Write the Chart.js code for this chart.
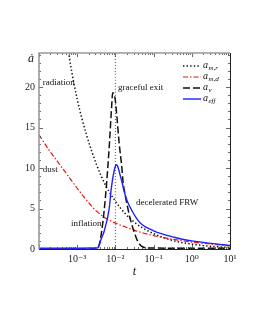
<!DOCTYPE html>
<html>
<head>
<meta charset="utf-8">
<script src="https://cdn.jsdelivr.net/npm/chart.js@4"></script>
<style>
  html, body { margin: 0; padding: 0; background: #fff; }
  #wrap { width: 255px; height: 330px; }
</style>
</head>
<body>
<div id="wrap"><canvas id="c"></canvas></div>
<script>
// log10(t) sample points and values of da/dt
const logtRad = [-3.3, -3.2, -3.0, -2.75, -2.5, -2.25, -2.0, -1.75, -1.5, -1.25, -1.0, -0.5, 0, 0.5, 1];
const aRad    = [27, 23.5, 18.5, 14, 10.5, 7.8, 5.9, 4.4, 3.3, 2.5, 1.9, 1.05, 0.6, 0.33, 0.19];

const logtDust = [-4, -3.75, -3.5, -3.25, -3.0, -2.75, -2.5, -2.25, -2.0, -1.75, -1.5, -1.25, -1.0, -0.5, 0, 0.5, 1];
const aDust    = [14.1, 12.3, 10.7, 9.1, 7.5, 6.0, 4.7, 3.8, 3.2, 2.75, 2.3, 1.95, 1.65, 1.2, 0.85, 0.6, 0.38];

const logtVac = [-4, -3, -2.5, -2.46, -2.40, -2.35, -2.30, -2.25, -2.20, -2.15, -2.10, -2.07, -2.03, -2.0, -1.96, -1.9, -1.83, -1.8, -1.75, -1.7, -1.6, -1.5, -1.43, -1.35, -1.28, -1.1, 0, 1];
const aVac    = [0, 0, 0, 0.1, 1.0, 2.5, 4.5, 7.0, 10.0, 13.5, 17.5, 19.3, 19.0, 18.3, 16.3, 13, 10, 8.3, 6.8, 5.6, 3.5, 2.0, 1.1, 0.5, 0.25, 0.12, 0.1, 0.1];

const logtEff = [-4, -3, -2.5, -2.46, -2.42, -2.38, -2.34, -2.30, -2.25, -2.19, -2.15, -2.12, -2.08, -2.04, -2.01, -1.98, -1.95, -1.92, -1.88, -1.83, -1.78, -1.72, -1.65, -1.55, -1.45, -1.35, -1.2, -1.0, -0.8, -0.5, -0.25, 0, 0.5, 1];
const aEff    = [0.1, 0.1, 0.12, 0.15, 0.5, 1.1, 1.6, 2.1, 3.0, 4.2, 5.5, 7.0, 8.4, 9.5, 10.1, 10.4, 10.3, 9.9, 9.2, 8.3, 7.3, 6.3, 5.5, 4.6, 3.8, 3.2, 2.7, 2.25, 1.9, 1.5, 1.2, 1.0, 0.7, 0.45];

const tExit = 0.01;
const tMin = 1e-4, tMax = 10;
const yMin = 0, yMax = 24.2;

const legendSubs = ['m,r', 'm,d', 'v', 'eff'];
const noteText = ['radiation', 'graceful exit', 'dust', 'inflation', 'decelerated FRW'];
const noteLogt = [-3.9, -1.93, -3.9, -3.16, -1.46];
const noteVal  = [20.6, 19.9, 9.75, 3.1, 5.7];

const SERIF = "'Liberation Serif', 'DejaVu Serif', serif";
const SUP = { '-': '\u207B', '0': '\u2070', '1': '\u00B9', '2': '\u00B2', '3': '\u00B3' };

const pts = (lt, v) => lt.map((l, i) => ({ x: Math.pow(10, l), y: v[i] }));

const styles = [
  { color: '#111111', dash: [1.4, 2.2], width: 1.5 },
  { color: '#ee1111', dash: [5, 2, 1.5, 2], width: 1.2 },
  { color: '#111111', dash: [7, 3], width: 1.5 },
  { color: '#1f1fff', dash: [], width: 1.4 }
];

const decor = {
  id: 'decor',
  afterDatasetsDraw(chart) {
    const { ctx, chartArea: ca, scales: { x, y } } = chart;
    ctx.save();
    // inner ticks
    ctx.strokeStyle = '#444';
    ctx.lineWidth = 0.8;
    ctx.beginPath();
    for (let e = -4; e <= 1; e++) {
      for (let k = 1; k <= 9; k++) {
        const v = k * Math.pow(10, e);
        if (v > tMax * 1.0001) break;
        const px = Math.round(x.getPixelForValue(v)) + 0.5;
        const len = k === 1 ? 4 : 2;
        ctx.moveTo(px, ca.bottom); ctx.lineTo(px, ca.bottom - len);
        ctx.moveTo(px, ca.top); ctx.lineTo(px, ca.top + len);
      }
    }
    for (let v = 0; v <= 24; v++) {
      const py = Math.round(y.getPixelForValue(v)) + 0.5;
      const len = v % 5 === 0 ? 4 : 2;
      ctx.moveTo(ca.left, py); ctx.lineTo(ca.left + len, py);
      ctx.moveTo(ca.right, py); ctx.lineTo(ca.right - len, py);
    }
    ctx.stroke();
    // frame
    ctx.strokeStyle = '#9a9a9a';
    ctx.lineWidth = 1.6;
    ctx.beginPath();
    ctx.moveTo(ca.left, ca.bottom); ctx.lineTo(ca.left, ca.top); ctx.lineTo(ca.right, ca.top);
    ctx.stroke();
    ctx.strokeStyle = '#222';
    ctx.lineWidth = 1;
    ctx.beginPath();
    ctx.moveTo(ca.right + 0.5, ca.top); ctx.lineTo(ca.right + 0.5, ca.bottom + 0.5); ctx.lineTo(ca.left, ca.bottom + 0.5);
    ctx.stroke();
    ctx.restore();
  },
  afterDraw(chart) {
    const { ctx, chartArea: ca, scales: { x, y } } = chart;
    ctx.save();
    ctx.fillStyle = '#111';
    // annotations
    ctx.font = '9px ' + SERIF;
    ctx.textAlign = 'left';
    ctx.textBaseline = 'middle';
    noteText.forEach((s, i) => {
      ctx.fillText(s, x.getPixelForValue(Math.pow(10, noteLogt[i])), y.getPixelForValue(noteVal[i]));
    });
    // axis titles
    ctx.font = 'italic 12px ' + SERIF;
    ctx.textAlign = 'center';
    ctx.fillText('\u0227', ca.left - 8, ca.top + 6);
    ctx.fillText('t', (ca.left + ca.right) / 2, ca.bottom + 23);
    // legend
    const lx = ca.right - 47, tx = ca.right - 27;
    legendSubs.forEach((sub, i) => {
      const ly = ca.top + 13 + i * 11;
      const st = styles[i];
      ctx.strokeStyle = st.color;
      ctx.lineWidth = st.width;
      ctx.setLineDash(st.dash);
      ctx.beginPath();
      ctx.moveTo(lx, ly); ctx.lineTo(lx + 18, ly);
      ctx.stroke();
      ctx.setLineDash([]);
      ctx.textAlign = 'left';
      ctx.font = 'italic 10px ' + SERIF;
      ctx.fillText('a', tx, ly - 1);
      const w = ctx.measureText('a').width;
      ctx.font = 'italic 7px ' + SERIF;
      ctx.fillText(sub, tx + w + 0.5, ly + 2);
    });
    ctx.restore();
  }
};

const supLabel = v => {
  const e = Math.round(Math.log10(v));
  if (Math.abs(Math.log10(v) - e) > 1e-6 || e < -3) return '';
  return '10' + String(e).split('').map(c => SUP[c]).join('');
};

const line = (data, st, order) => ({
  data, order,
  borderColor: st.color, borderWidth: st.width, borderDash: st.dash,
  pointRadius: 0, fill: false, cubicInterpolationMode: 'monotone'
});

new Chart(document.getElementById('c'), {
  type: 'line',
  data: {
    datasets: [
      line(pts(logtEff, aEff), styles[3], 1),
      line(pts(logtVac, aVac), styles[2], 2),
      line(pts(logtDust, aDust), styles[1], 3),
      line(pts(logtRad, aRad), styles[0], 4),
      line([{ x: tExit, y: yMin }, { x: tExit, y: yMax }], { color: '#666', dash: [1, 2], width: 1.1 }, 5)
    ]
  },
  options: {
    responsive: true,
    maintainAspectRatio: false,
    animation: false,
    layout: { padding: { top: 53, right: 25, left: 0, bottom: 0 } },
    plugins: { legend: { display: false }, tooltip: { enabled: false } },
    scales: {
      x: {
        type: 'logarithmic',
        min: tMin, max: tMax,
        grid: { display: false, drawTicks: false },
        border: { display: false },
        ticks: {
          autoSkip: false, maxRotation: 0, padding: 4,
          color: '#222', font: { family: SERIF, size: 10 },
          callback: v => supLabel(v)
        },
        afterFit: s => { s.height = 81; }
      },
      y: {
        min: yMin, max: yMax,
        grid: { display: false, drawTicks: false },
        border: { display: false },
        ticks: {
          stepSize: 5, includeBounds: false, padding: 4,
          color: '#222', font: { family: SERIF, size: 10 }
        },
        afterFit: s => { s.width = 39; }
      }
    }
  },
  plugins: [decor]
});
</script>
</body>
</html>
